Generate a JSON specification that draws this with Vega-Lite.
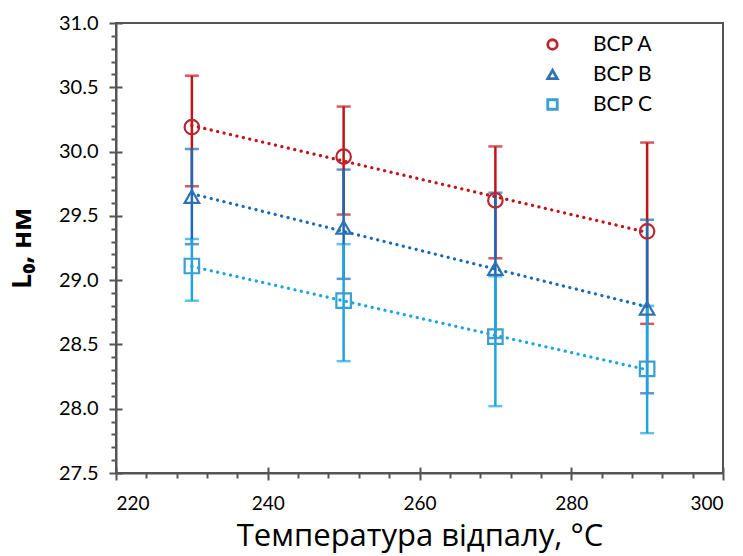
{
  "$schema": "https://vega.github.io/schema/vega-lite/v6.json",
  "width": 607,
  "height": 450,
  "autosize": {"type": "none"},
  "padding": {"left": 116, "top": 23, "right": 20, "bottom": 83},
  "background": "white",
  "config": {
    "view": {"stroke": "#555555", "strokeWidth": 2},
    "font": "Open Sans"
  },
  "data": {
    "values": [
      {"series": "BCP A", "temp": 230, "L": 30.19, "lo": 29.73, "hi": 30.59},
      {"series": "BCP A", "temp": 250, "L": 29.96, "lo": 29.51, "hi": 30.35},
      {"series": "BCP A", "temp": 270, "L": 29.62, "lo": 29.17, "hi": 30.04},
      {"series": "BCP A", "temp": 290, "L": 29.38, "lo": 28.66, "hi": 30.07},
      {"series": "BCP B", "temp": 230, "L": 29.65, "lo": 29.28, "hi": 30.02},
      {"series": "BCP B", "temp": 250, "L": 29.41, "lo": 29.01, "hi": 29.86},
      {"series": "BCP B", "temp": 270, "L": 29.09, "lo": 28.55, "hi": 29.68},
      {"series": "BCP B", "temp": 290, "L": 28.78, "lo": 28.12, "hi": 29.47},
      {"series": "BCP C", "temp": 230, "L": 29.11, "lo": 28.84, "hi": 29.32},
      {"series": "BCP C", "temp": 250, "L": 28.84, "lo": 28.37, "hi": 29.28},
      {"series": "BCP C", "temp": 270, "L": 28.56, "lo": 28.02, "hi": 29.03},
      {"series": "BCP C", "temp": 290, "L": 28.31, "lo": 27.81, "hi": 28.80}
    ]
  },
  "resolve": {"axis": {"x": "independent", "y": "independent"}},
  "layer": [
    {
      "mark": {"type": "errorbar", "ticks": {"size": 14, "thickness": 2.5}, "thickness": 2.5},
      "encoding": {
        "x": {"field": "temp", "type": "quantitative",
          "scale": {"domain": [220, 300], "nice": false, "zero": false},
          "axis": {
            "values": [220, 240, 260, 280, 300],
            "orient": "bottom",
            "tickSize": 7, "tickWidth": 2, "tickColor": "#555555",
            "domainColor": "#555555", "domainWidth": 2,
            "labelFont": "Lato", "labelFontSize": 19, "labelColor": "#000000",
            "labelPadding": 14, "grid": false,
            "title": "Температура відпалу, °C",
            "titleFont": "Open Sans", "titleFontSize": 31, "titleFontWeight": "normal",
            "titleColor": "#000000", "titlePadding": 8
          }},
        "y": {"field": "lo", "type": "quantitative",
          "scale": {"domain": [27.5, 31], "nice": false, "zero": false},
          "axis": {
            "values": [27.5, 28, 28.5, 29, 29.5, 30, 30.5, 31],
            "format": ".1f",
            "orient": "left",
            "tickSize": 7, "tickWidth": 2, "tickColor": "#555555",
            "domainColor": "#555555", "domainWidth": 2,
            "labelFont": "Lato", "labelFontSize": 20, "labelColor": "#000000",
            "labelPadding": 11, "grid": false,
            "title": "L₀, нм",
            "titleFont": "Open Sans", "titleFontSize": 27, "titleFontWeight": "bold",
            "titleColor": "#000000", "titlePadding": 22
          }},
        "y2": {"field": "hi"},
        "color": {"field": "series", "type": "nominal",
          "scale": {"range": ["#c4121a", "#1a6ab8", "#1da5e0"]},
          "legend": null}
      }
    },
    {
      "transform": [{"regression": "L", "on": "temp", "groupby": ["series"], "method": "linear"}],
      "mark": {"type": "line", "strokeDash": [0.1, 6.5], "strokeCap": "round", "strokeWidth": 3.2},
      "encoding": {
        "x": {"field": "temp", "type": "quantitative", "axis": null},
        "y": {"field": "L", "type": "quantitative", "axis": null},
        "color": {"field": "series", "type": "nominal", "legend": null},
        "detail": {"field": "series"}
      }
    },
    {
      "mark": {"type": "point", "filled": false, "strokeWidth": 2.2, "size": 210, "opacity": 1},
      "encoding": {
        "x": {"field": "temp", "type": "quantitative", "axis": null},
        "y": {"field": "L", "type": "quantitative", "axis": null},
        "stroke": {"field": "series", "type": "nominal",
          "scale": {"domain": ["BCP A", "BCP B", "BCP C"], "range": ["#b8282e", "#2e72b3", "#3aa0d0"]},
          "legend": {
            "orient": "none", "legendX": 426, "legendY": 11,
            "title": null, "padding": 0,
            "labelFont": "Lato", "labelFontSize": 21, "labelColor": "#000000",
            "labelOffset": 30, "rowPadding": 8,
            "symbolSize": 90, "symbolStrokeWidth": 2.8
          }},
        "shape": {"field": "series", "type": "nominal",
          "scale": {"domain": ["BCP A", "BCP B", "BCP C"], "range": ["circle", "triangle-up", "square"]},
          "legend": {
            "orient": "none", "legendX": 426, "legendY": 11,
            "title": null, "padding": 0,
            "labelFont": "Lato", "labelFontSize": 21, "labelColor": "#000000",
            "labelOffset": 30, "rowPadding": 8,
            "symbolSize": 90, "symbolStrokeWidth": 2.8
          }}
      }
    },
    {
      "mark": {"type": "point", "opacity": 0},
      "encoding": {
        "x": {"field": "temp", "type": "quantitative",
          "axis": {"orient": "bottom", "values": [224, 228, 232, 236, 244, 248, 252, 256, 264, 268, 272, 276, 284, 288, 292, 296],
            "labels": false, "domain": false, "grid": false, "title": null,
            "tickSize": 5, "tickWidth": 2, "tickColor": "#555555"}},
        "y": {"field": "L", "type": "quantitative",
          "axis": {"orient": "left", "values": [27.6, 27.7, 27.8, 27.9, 28.1, 28.2, 28.3, 28.4, 28.6, 28.7, 28.8, 28.9, 29.1, 29.2, 29.3, 29.4, 29.6, 29.7, 29.8, 29.9, 30.1, 30.2, 30.3, 30.4, 30.6, 30.7, 30.8, 30.9],
            "labels": false, "domain": false, "grid": false, "title": null,
            "tickSize": 5, "tickWidth": 2, "tickColor": "#555555"}}
      }
    },
    {
      "mark": {"type": "point", "opacity": 0},
      "encoding": {
        "x": {"field": "temp", "type": "quantitative",
          "axis": {"orient": "bottom", "values": [220, 240, 260, 280, 300],
            "labels": false, "domain": false, "grid": false, "title": null,
            "tickSize": -6, "tickWidth": 2, "tickColor": "#555555"}},
        "y": {"field": "L", "type": "quantitative",
          "axis": {"orient": "left", "values": [27.5, 28, 28.5, 29, 29.5, 30, 30.5, 31],
            "labels": false, "domain": false, "grid": false, "title": null,
            "tickSize": -6, "tickWidth": 2, "tickColor": "#555555"}}
      }
    }
  ]
}
